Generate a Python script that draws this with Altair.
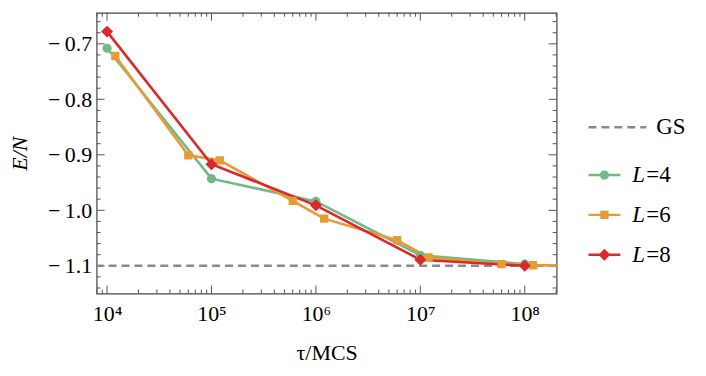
import altair as alt
import pandas as pd

# ---------------- data ----------------
series = ["L=4", "L=6", "L=8"]
colors = ["#6fba87", "#e89b35", "#dc2828"]
shapes = ["circle", "square", "diamond"]
sizes = [85, 70, 145]

tau4 = [1e4, 1e5, 1e6, 1e7, 1e8]
e4 = [-0.708, -0.943, -0.984, -1.081, -1.097]
tau6 = [1.2e4, 6e4, 1.2e5, 6e5, 1.2e6, 6e6, 1.2e7, 6e7, 1.2e8, 6e8]
e6 = [-0.722, -0.901, -0.910, -0.983, -1.015, -1.054, -1.085, -1.097, -1.099, -1.100]
tau8 = [1e4, 1e5, 1e6, 1e7, 1e8]
e8 = [-0.678, -0.917, -0.991, -1.089, -1.100]
gs_energy = -1.1

x_tick_values = [1e4, 1e5, 1e6, 1e7, 1e8]
x_tick_labels = ["10⁴", "10⁵", "10⁶", "10⁷", "10⁸"]
y_tick_values = [-1.1, -1.0, -0.9, -0.8, -0.7]

rows = []
for name, ts, es in zip(series, [tau4, tau6, tau8], [e4, e6, e8]):
    for t, e in zip(ts, es):
        rows.append({"series": name, "tau": t, "E": e})
df = pd.DataFrame(rows)

W, H = 462, 282
FONT = "Liberation Serif"
TICKC = "#555555"

xscale = alt.Scale(type="log", domain=[7943, 2.02e8], nice=False)
yscale = alt.Scale(domain=[-1.15, -0.644], nice=False, zero=False)
cscale = alt.Scale(domain=series, range=colors)

label_expr = "[" + ",".join("'%s'" % s for s in x_tick_labels) + "][round(log(datum.value)/LN10)-4]"

xaxis = alt.Axis(values=x_tick_values, labelExpr=label_expr, ticks=False, domain=False, grid=False,
                 labelFont=FONT, labelFontSize=22, labelColor="black", labelPadding=10,
                 title="τ/MCS", titleFont=FONT, titleFontSize=22, titleFontWeight="normal",
                 titleColor="black", titlePadding=18)
yaxis = alt.Axis(values=y_tick_values, labelExpr="'−\u2009' + format(abs(datum.value), '.1f')",
                 ticks=False, domain=False, grid=False,
                 labelFont=FONT, labelFontSize=22, labelColor="black", labelPadding=5,
                 title="E/N", titleFont=FONT, titleFontSize=22, titleFontWeight="normal",
                 titleFontStyle="italic", titleColor="black", titlePadding=16)

X = alt.X("tau:Q", scale=xscale, axis=xaxis)
Y = alt.Y("E:Q", scale=yscale, axis=yaxis)

# tick data
y_minor = [round(-1.14 + 0.02 * i, 2) for i in range(25)]
y_minor = [v for v in y_minor if all(abs(v - m) > 1e-6 for m in y_tick_values)]
x_minor = [k * 10 ** p for p in range(3, 9) for k in range(2, 10)]
x_minor = [v for v in x_minor if 7943 < v < 2.02e8]

ymaj = pd.DataFrame({"E": y_tick_values})
ymin = pd.DataFrame({"E": y_minor})
xmaj = pd.DataFrame({"tau": x_tick_values})
xmin = pd.DataFrame({"tau": x_minor})

def yticks(d, L):
    a = alt.Chart(d).mark_rule(color=TICKC, strokeWidth=1).encode(y=Y, x=alt.value(0), x2=alt.value(L))
    b = alt.Chart(d).mark_rule(color=TICKC, strokeWidth=1).encode(y=Y, x=alt.value(W), x2=alt.value(W - L))
    return [a, b]

def xticks(d, L):
    a = alt.Chart(d).mark_rule(color=TICKC, strokeWidth=1).encode(x=X, y=alt.value(H), y2=alt.value(H - L))
    b = alt.Chart(d).mark_rule(color=TICKC, strokeWidth=1).encode(x=X, y=alt.value(0), y2=alt.value(L))
    return [a, b]

gs = alt.Chart(pd.DataFrame({"E": [gs_energy]})).mark_rule(
    color="#8a8a8a", strokeWidth=2.5, strokeDash=[8, 5]).encode(y=Y)

lines = alt.Chart(df).mark_line(strokeWidth=2.6, clip=True).encode(
    x=X, y=Y, color=alt.Color("series:N", scale=cscale, legend=None))

point_layers = []
for name, col, shp, sz in zip(series, colors, shapes, sizes):
    point_layers.append(
        alt.Chart(df).transform_filter(alt.datum.series == name)
        .mark_point(filled=True, opacity=1, clip=True, shape=shp, size=sz, color=col)
        .encode(x=X, y=Y))

main = alt.layer(
    *yticks(ymaj, 8), *yticks(ymin, 4), *xticks(xmaj, 8), *xticks(xmin, 4),
    gs, lines, *point_layers
).properties(width=W, height=H, view=alt.ViewBackground(stroke="#444444", strokeWidth=1.2))

# ---------------- legend panel ----------------
leg = pd.DataFrame({"series": series, "pre": ["L", "L", "L"], "post": ["=4", "=6", "=8"]})
LY = alt.Y("series:N", scale=alt.Scale(type="point", domain=series, range=[163, 243], padding=0), axis=None)
LC = alt.Color("series:N", scale=cscale, legend=None)

leg_rule = alt.Chart(leg).mark_rule(strokeWidth=2.5).encode(x=alt.value(0), x2=alt.value(32), y=LY, color=LC)
leg_pts = []
for name, col, shp, sz in zip(series, colors, shapes, sizes):
    leg_pts.append(
        alt.Chart(leg).transform_filter(alt.datum.series == name)
        .mark_point(filled=True, opacity=1, shape=shp, size=sz, color=col)
        .encode(x=alt.value(16), y=LY))
leg_pre = alt.Chart(leg).mark_text(font=FONT, fontSize=23, fontStyle="italic", align="left",
                                   baseline="middle", color="black").encode(
    x=alt.value(44), y=LY, text="pre:N")
leg_post = alt.Chart(leg).mark_text(font=FONT, fontSize=23, align="left",
                                    baseline="middle", color="black").encode(
    x=alt.value(58), y=LY, text="post:N")

gsd = pd.DataFrame({"label": ["GS"]})
gs_rule = alt.Chart(gsd).mark_rule(color="#8a8a8a", strokeWidth=2.5, strokeDash=[8, 5]).encode(
    x=alt.value(0), x2=alt.value(58), y=alt.value(115))
gs_text = alt.Chart(gsd).mark_text(font=FONT, fontSize=23, align="left", baseline="middle",
                                   color="black").encode(x=alt.value(68), y=alt.value(115), text="label:N")

legend = alt.layer(gs_rule, gs_text, leg_rule, *leg_pts, leg_pre, leg_post).properties(
    width=110, height=H, view=alt.ViewBackground(stroke=None))

chart = alt.hconcat(main, legend, spacing=28).configure_view(stroke=None).properties(
    background="white", padding={"left": 0, "top": 2, "right": 0, "bottom": 0})

chart.save("out.html", embed_options={"renderer": "svg", "actions": False})
